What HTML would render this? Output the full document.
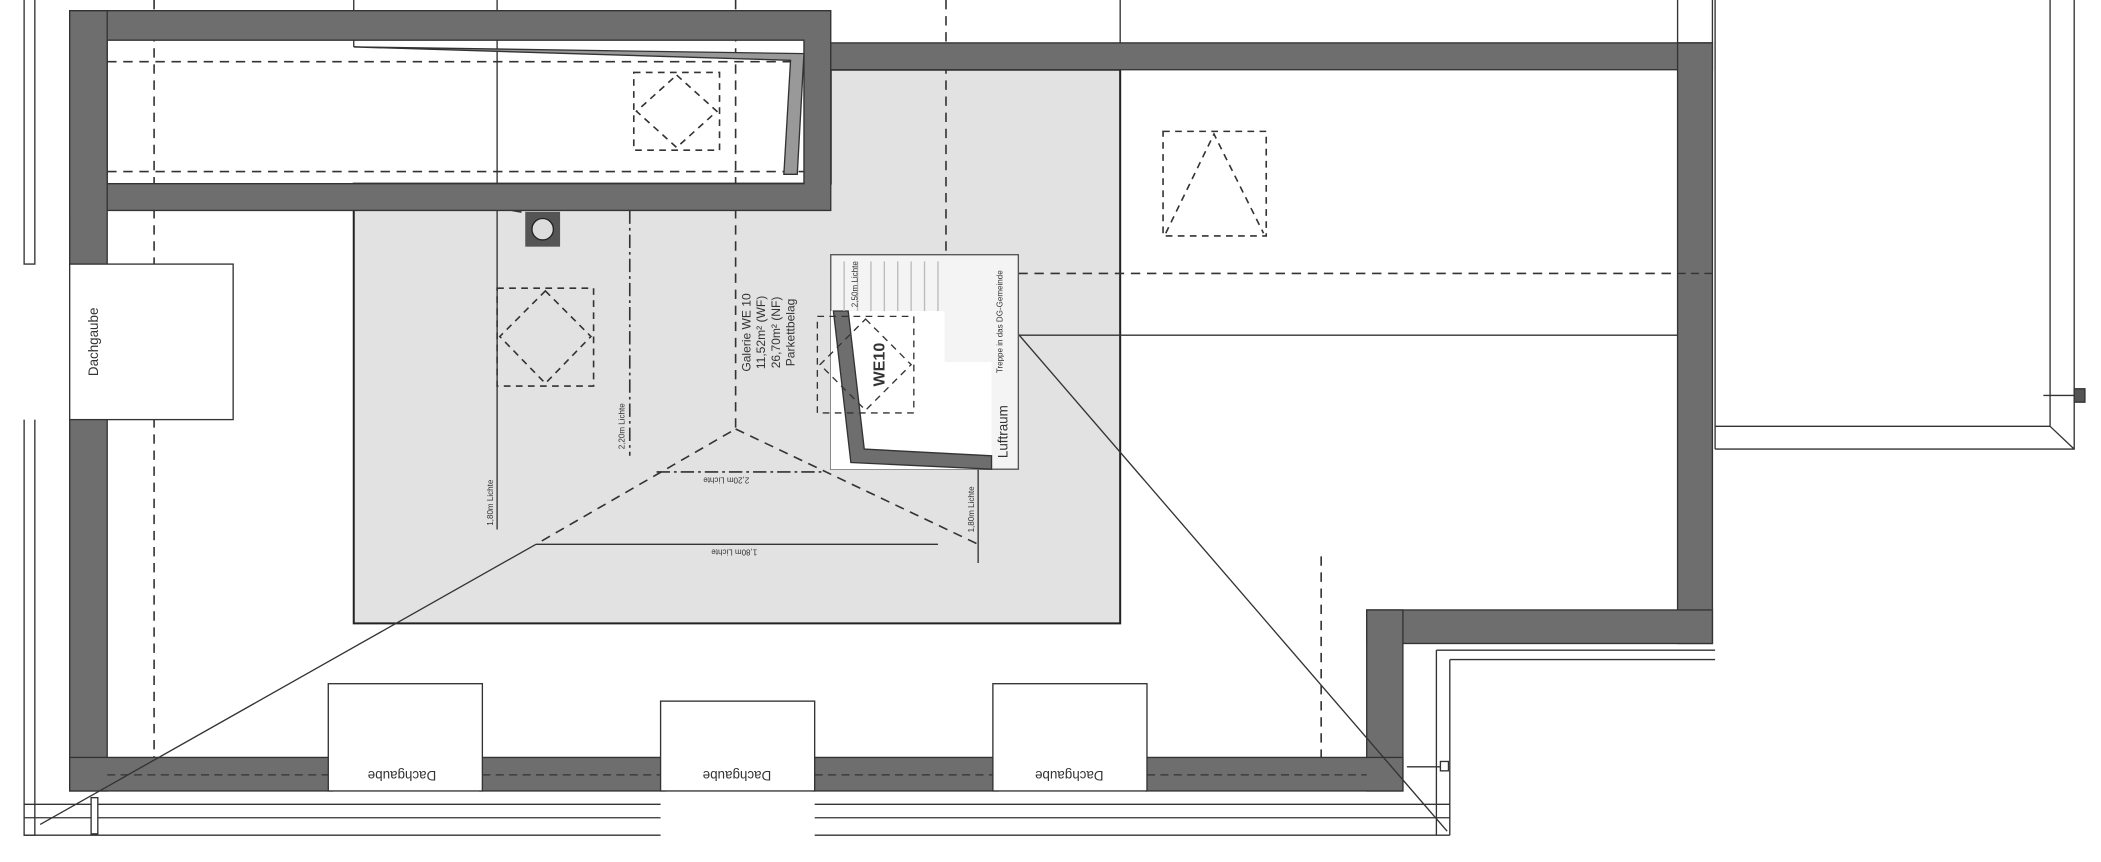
<!DOCTYPE html>
<html><head><meta charset="utf-8"><style>
html,body{margin:0;padding:0;background:#fff;}
svg{display:block;}
text{font-family:"Liberation Sans",sans-serif;fill:#333;}
</style></head><body>
<svg width="2101" height="862" viewBox="0 0 1568 643" preserveAspectRatio="none" xmlns="http://www.w3.org/2000/svg">
<rect width="1568" height="643" fill="#fff"/>
<path d="M264 137 H620 V52 H836 V465 H264 Z" fill="#e2e2e2" stroke="#222" stroke-width="1.5"/>
<g stroke="#333" stroke-width="1" fill="none">
<path d="M18 0 V197 H26 V0"/><path d="M18 313 V623 H26 V313"/>
<path d="M18 600 H493 M18 610 H493 M18 623 H493"/>
<path d="M608 600 H1082 M608 610 H1082 M608 623 H1082"/>
<path d="M1072 485 V623 M1082 492 V623 M1072 485 H1280 M1082 492 H1280"/>
<path d="M1280 0 V335 M1530 0 V318 H1280 M1548 0 V335 H1280 M1530 318 L1548 335"/>
<path d="M264 0 V35 M371 0 V395 M836 0 V52 M1252 0 V32 M1278 0 V32"/>
<path d="M400 406 H700"/>
<path d="M760 250 H1278"/>
<path d="M730 200 V420"/>
</g>
<g stroke="#333" stroke-width="1.2" fill="none" stroke-dasharray="7,5">
<path d="M115 0 V590"/>
<path d="M549 0 V320 L400 406 M549 320 L730 406"/>
<path d="M706 0 V190"/>
<path d="M760 204 H1278"/>
<path d="M986 415 V575"/>
<path d="M80 46 H600 M80 128 H600"/>
<path d="M470 157 V340" stroke-dasharray="10,3,2,3"/>
<path d="M490 352 H615" stroke-dasharray="10,3,2,3"/>
<path d="M264 137 L400 160"/>
</g>
<g fill="#6e6e6e" stroke="#333" stroke-width="1">
<path d="M52 8 H620 V157 H52 Z M80 30 V137 H600 V30 Z" fill-rule="evenodd"/>
<rect x="52" y="8" width="28" height="192"/>
<rect x="52" y="308" width="28" height="282"/>
<rect x="620" y="32" width="658" height="20"/>
<rect x="1252" y="32" width="26" height="448"/>
<rect x="1020" y="455" width="258" height="25"/>
<rect x="1020" y="455" width="27" height="135"/>
<rect x="52" y="565" width="196" height="25"/>
<rect x="358" y="565" width="139" height="25"/>
<rect x="607" y="565" width="138" height="25"/>
<rect x="855" y="565" width="192" height="25"/>
</g>
<g stroke="#333" stroke-width="1" fill="none" stroke-dasharray="6,4">
<path d="M80 578 H245 M360 578 H493 M608 578 H741 M856 578 H1020"/>
<path d="M1252 204 H1278"/>
</g>
<g stroke="#333" stroke-width="1" fill="none">
<path d="M30 615 L400 406"/>
<path d="M752 240 L1080 620"/>
</g>
<path d="M264 35 L600 40 L595 130 L585 130 L590 45 Z" fill="#999" stroke="#333" stroke-width="1"/>
<g fill="#fff" stroke="#333" stroke-width="1">
<rect x="52" y="197" width="122" height="116"/>
<rect x="245" y="510" width="115" height="80"/>
<rect x="493" y="523" width="115" height="67"/>
<rect x="741" y="510" width="115" height="80"/>
</g>
<text transform="translate(73 255) rotate(-90)" font-size="10" text-anchor="middle">Dachgaube</text>
<text transform="translate(300 575) rotate(180)" font-size="10" text-anchor="middle">Dachgaube</text>
<text transform="translate(550 575) rotate(180)" font-size="10" text-anchor="middle">Dachgaube</text>
<text transform="translate(798 575) rotate(180)" font-size="10" text-anchor="middle">Dachgaube</text>
<g stroke="#333" stroke-width="1.2" fill="none" stroke-dasharray="5,4">
<rect x="473" y="54" width="64" height="58"/><path d="M505 56 L535 83 L505 110 L475 83 Z"/>
<rect x="371" y="215" width="72" height="73"/><path d="M407 217 L441 251 L407 286 L373 251 Z"/>
<rect x="868" y="98" width="77" height="78"/><path d="M870 174 L906 100 L943 174"/>
</g>
<rect x="392" y="158" width="26" height="26" fill="#555"/><circle cx="405" cy="171" r="8" fill="#ddd" stroke="#222"/>
<rect x="620" y="190" width="140" height="160" fill="#f4f4f4" stroke="#555" stroke-width="1"/>
<path d="M620 232 H705 V270 H740 V350 H620 Z" fill="#fff"/>
<path d="M622 232 L635 345 L740 350 L740 340 L645 335 L633 232 Z" fill="#6e6e6e" stroke="#333"/>
<g stroke="#bbb" stroke-width="1"><path d="M630 195 V232 M640 195 V232 M650 195 V232 M660 195 V232 M670 195 V232 M680 195 V232 M690 195 V232 M700 195 V232"/></g>
<g stroke="#333" stroke-width="1" fill="none" stroke-dasharray="5,4"><rect x="610" y="236" width="72" height="72"/><path d="M646 238 L680 272 L646 306 L612 272 Z"/></g>
<text transform="translate(660 272) rotate(-90)" font-size="12" font-weight="bold" text-anchor="middle" fill="#222">WE10</text>
<text transform="translate(752 322) rotate(-90)" font-size="10" text-anchor="middle">Luftraum</text>
<text transform="translate(640 212) rotate(-90)" font-size="6" text-anchor="middle">2,50m Lichte</text>
<text transform="translate(748 240) rotate(-90)" font-size="6" text-anchor="middle">Treppe in das DG-Gemeinde</text>
<g font-size="9">
<text transform="translate(560 248) rotate(-90)" text-anchor="middle">Galerie WE 10</text>
<text transform="translate(571 248) rotate(-90)" text-anchor="middle">11,52m² (WF)</text>
<text transform="translate(582 248) rotate(-90)" text-anchor="middle">26,70m² (NF)</text>
<text transform="translate(593 248) rotate(-90)" text-anchor="middle">Parkettbelag</text>
</g>
<g font-size="6">
<text transform="translate(368 375) rotate(-90)" text-anchor="middle">1,80m Lichte</text>
<text transform="translate(466 318) rotate(-90)" text-anchor="middle">2,20m Lichte</text>
<text transform="translate(727 380) rotate(-90)" text-anchor="middle">1,80m Lichte</text>
<text transform="translate(542 356) rotate(180)" text-anchor="middle">2,20m Lichte</text>
<text transform="translate(548 410) rotate(180)" text-anchor="middle">1,80m Lichte</text>
</g>
<g stroke="#333" fill="#fff"><rect x="68" y="595" width="5" height="27"/><rect x="1075" y="568" width="6" height="7"/><rect x="1548" y="290" width="8" height="10" fill="#555"/></g>
<path d="M1525 295 H1548" stroke="#333"/>
<path d="M1050 572 H1075" stroke="#333"/>
</svg>
</body></html>
